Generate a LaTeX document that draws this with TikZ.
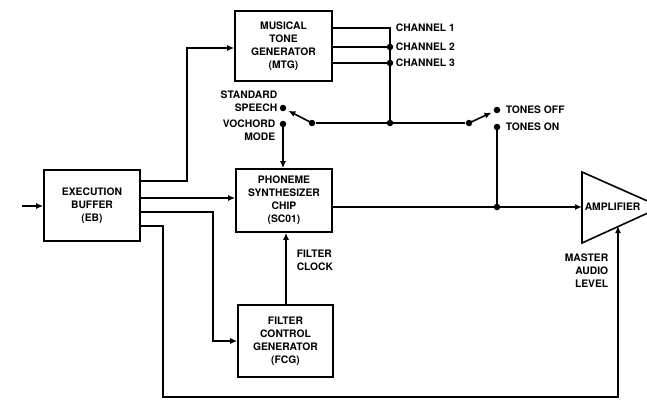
\documentclass[tikz,border=0pt]{standalone}
\usepackage{fontspec}
\setmainfont{TeX Gyre Heros}
\usetikzlibrary{arrows.meta}
\begin{document}
\begin{tikzpicture}[x=1pt,y=-1pt,line width=1.6pt,
  txt/.style={font=\bfseries\fontsize{10.3}{13}\selectfont,inner sep=0pt},
  box/.style={draw,rectangle,align=center,txt,inner sep=0pt},
  arr/.style={-{Latex[length=7pt,width=6pt]}},
  dot/.style={circle,fill,inner sep=0pt,minimum size=6.5pt}]
\useasboundingbox (0,0) rectangle (647,402);
% boxes
\node[box,minimum width=96pt,minimum height=71pt] (EB) at (92,205.5) {EXECUTION\\BUFFER\\(EB)};
\node[box,minimum width=97pt,minimum height=70pt] (MTG) at (283.5,46) {MUSICAL\\TONE\\GENERATOR\\(MTG)};
\node[box,minimum width=96pt,minimum height=63pt] (PSC) at (284,200.5) {PHONEME\\SYNTHESIZER\\CHIP\\(SC01)};
\node[box,minimum width=95pt,minimum height=72pt] (FCG) at (285.5,341) {FILTER\\CONTROL\\GENERATOR\\(FCG)};
% amplifier
\coordinate (A1) at (582,172);
\coordinate (A2) at (582,243);
\coordinate (A3) at (661,207);
\begin{scope}
\clip (0,0) rectangle (647,402);
\draw[line join=miter] (A1) -- (A3) -- (A2) -- cycle;
\end{scope}
\node[txt,anchor=west] (AMP) at (584,207) {AMPLIFIER};
% input
\coordinate (IN) at (22,206);
\draw[arr] (IN) -- (IN -| EB.west);
% EB to MTG
\coordinate (e1) at (140,181);
\coordinate (m1) at (187,48);
\draw[arr] (e1) -| (m1) -- (m1 -| MTG.west);
% EB to PSC
\coordinate (e2) at (140,198);
\draw[arr] (e2) -- (e2 -| PSC.west);
% EB to FCG
\coordinate (e3) at (140,212);
\coordinate (f1) at (213,341);
\draw[arr] (e3) -| (f1) -- (f1 -| FCG.west);
% EB to master audio level
\coordinate (e4) at (140,226);
\coordinate (b1) at (163,397);
\coordinate (b2) at (618,397);
\coordinate (b3) at (618,226);
\draw[arr] (e4) -| (b1) -- (b2) -- (b3);
% filter clock
\coordinate (fc) at (286,305);
\draw[arr] (fc) -- (fc |- PSC.south);
\node[txt,anchor=north west,align=left] (FCL) at (296,249) {FILTER\\CLOCK};
% channels
\coordinate (c1) at (390,28);
\coordinate (c2) at (390,47);
\coordinate (c3) at (390,63);
\coordinate (sj) at (390,123);
\draw (c1 -| MTG.east) -- (c1) -- (sj);
\draw (c2 -| MTG.east) -- (c2);
\draw (c3 -| MTG.east) -- (c3);
\node[dot] (d2) at (c2) {};
\node[dot] (d3) at (c3) {};
\node[dot] (dj) at (sj) {};
\node[txt,anchor=west] (L1) at (395,28) {CHANNEL 1};
\node[txt,anchor=west] (L2) at (395,47) {CHANNEL 2};
\node[txt,anchor=west] (L3) at (395,63) {CHANNEL 3};
% switch
\node[dot] (sw1) at (312,123) {};
\node[dot] (sw2) at (469,123) {};
\draw (sw1) -- (sw2);
\node[dot] (ss) at (283,108) {};
\node[dot] (vm) at (283,124) {};
\node[dot] (toff) at (497,110) {};
\node[dot] (ton) at (497,127) {};
\draw[arr,shorten >=2pt] (sw1.center) -- (ss);
\draw[arr,shorten >=2pt] (sw2.center) -- (toff);
\node[txt,anchor=east,align=right] (LSS) at (278,101) {STANDARD\\SPEECH};
\node[txt,anchor=east,align=right] (LVM) at (276,130) {VOCHORD\\MODE};
\node[txt,anchor=west] (LTO) at (505,110) {TONES OFF};
\node[txt,anchor=west] (LTN) at (505,127) {TONES ON};
\draw[arr] (vm.center) -- (vm |- PSC.north);
% output
\coordinate (o1) at (332,207);
\coordinate (oj) at (497,207);
\draw[arr] (o1) -- (o1 -| A1);
\draw (ton.center) -- (oj);
\node[dot] (doj) at (oj) {};
% master audio
\node[txt,anchor=north east,align=right] (MAL) at (609,253) {MASTER\\AUDIO\\LEVEL};
\end{tikzpicture}
\end{document}
